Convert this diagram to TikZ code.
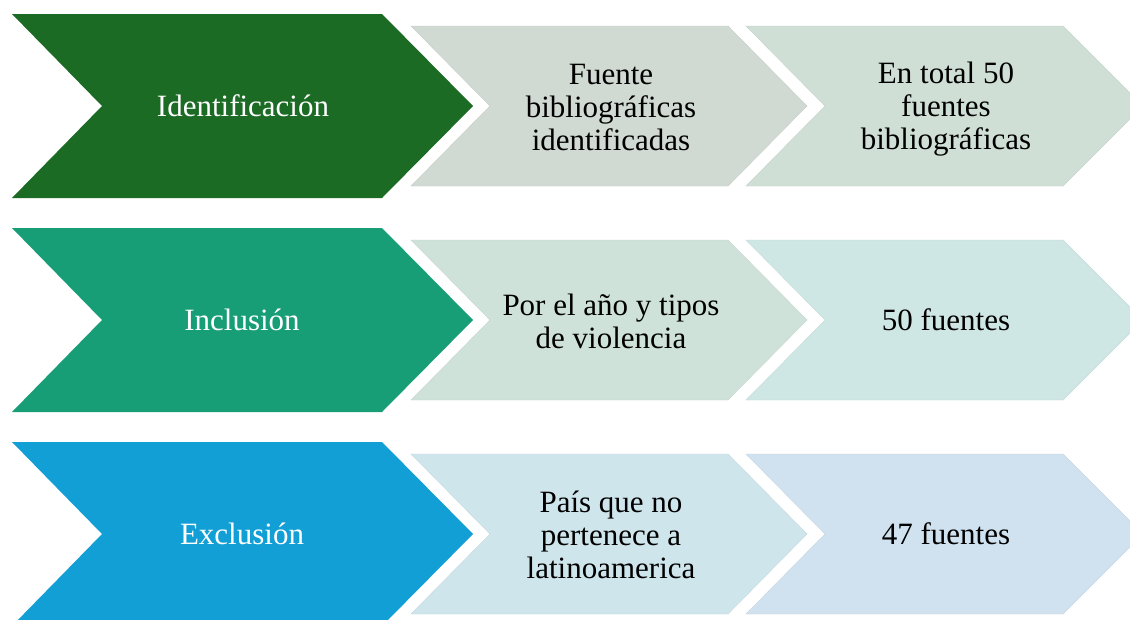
\documentclass[tikz,border=0pt]{standalone}
\usepackage{fontspec}
\setmainfont{Liberation Serif}
\definecolor{bigA}{HTML}{1B6B25}
\definecolor{bigB}{HTML}{189E76}
\definecolor{bigC}{HTML}{119FD6}
\definecolor{lA1}{HTML}{D0D9D2}
\definecolor{lA2}{HTML}{D0DFD6}
\definecolor{lB1}{HTML}{CFE2DA}
\definecolor{lB2}{HTML}{CFE7E4}
\definecolor{lC1}{HTML}{CFE5EC}
\definecolor{lC2}{HTML}{D0E2EF}
\tikzset{
  bigtxt/.style={text=white, font=\fontsize{31}{33}\selectfont, align=center, inner sep=0pt},
  smalltxt/.style={text=black, font=\fontsize{31}{33}\selectfont, align=center, inner sep=0pt},
}
% chevron: #1 left, #2 notch, #3 top-right, #4 tip, #5 top, #6 bottom, #7 fill options
\newcommand\mychev[7]{%
  \path[#7] (#1,#5) -- (#3,#5) -- (#4,{(#5+#6)/2}) -- (#3,#6) -- (#1,#6) -- (#2,{(#5+#6)/2}) -- cycle;}
\begin{document}
\begin{tikzpicture}[x=1pt,y=-1pt]
\useasboundingbox (0,0) rectangle (1130,619);
\fill[white] (0,0) rectangle (1130,619);
\clip (0,0) rectangle (1130,619);
% row 1
\mychev{12}{102}{382}{473}{14}{198}{fill=bigA}
\mychev{411}{490}{728}{807}{26}{186}{fill=lA1, draw=lA1!95!black}
\mychev{746}{825}{1063}{1143}{26}{186}{fill=lA2, draw=lA2!95!black}
\node[bigtxt] (id) at (243,106) {Identificación};
\node[smalltxt] (id2) at (611,107) {Fuente\\bibliográficas\\identificadas};
\node[smalltxt] (id3) at (946,109) {En total 50\\fuentes\\bibliográficas};
% row 2
\mychev{12}{102}{382}{473}{228}{412}{fill=bigB}
\mychev{411}{490}{728}{807}{240}{400}{fill=lB1, draw=lB1!95!black}
\mychev{746}{825}{1063}{1143}{240}{400}{fill=lB2, draw=lB2!95!black}
\node[bigtxt] (in) at (242,320) {Inclusión};
\node[smalltxt] (in2) at (611,321) {Por el año y tipos\\de violencia};
\node[smalltxt] (in3) at (946,320) {50 fuentes};
% row 3
\mychev{12}{102}{382}{473}{442}{626}{fill=bigC}
\mychev{411}{490}{728}{807}{454}{614}{fill=lC1, draw=lC1!95!black}
\mychev{746}{825}{1063}{1143}{454}{614}{fill=lC2, draw=lC2!95!black}
\node[bigtxt] (ex) at (242,534) {Exclusión};
\node[smalltxt] (ex2) at (611,535) {País que no\\pertenece a\\latinoamerica};
\node[smalltxt] (ex3) at (946,534) {47 fuentes};
\end{tikzpicture}
\end{document}
